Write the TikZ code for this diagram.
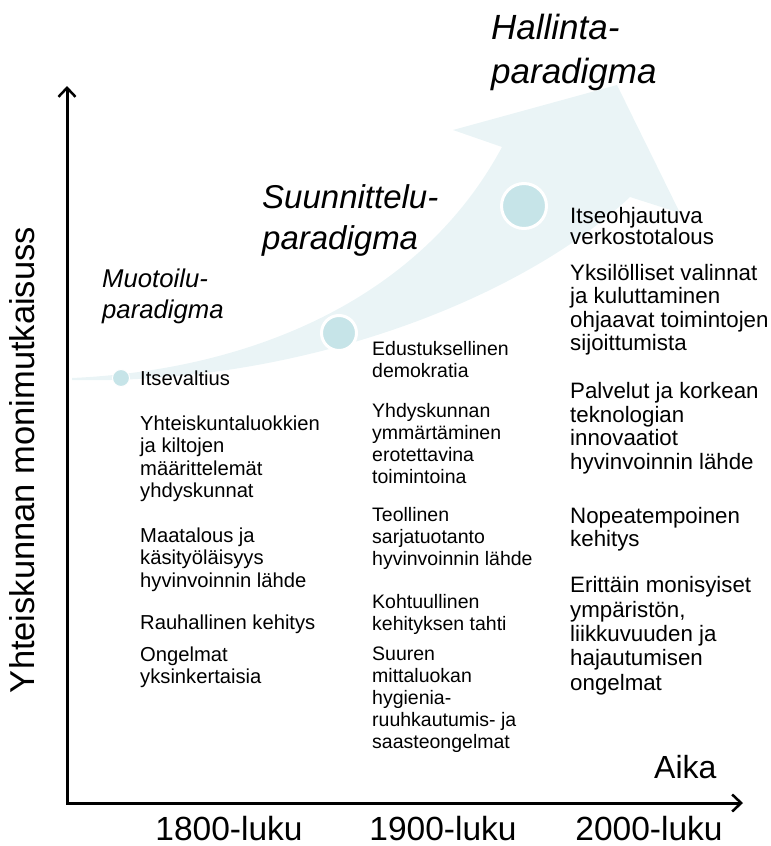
\documentclass[tikz,border=0pt]{standalone}
\usepackage{fontspec}
\setmainfont{Liberation Sans}
\usetikzlibrary{arrows.meta}
\definecolor{bandcol}{HTML}{EAF4F6}
\definecolor{dotcol}{HTML}{C6E4E8}
\begin{document}
	\begin{tikzpicture}[
		x=1pt, y=-1pt,
		axis/.style={
			line width=3pt, line join=miter,
			{Straight Barb[length=9pt,width=17pt,line width=2.5pt]}-{Straight Barb[length=9pt,width=17pt,line width=2.5pt]}
		},
		dot/.style={
			circle, fill=dotcol, draw=white, line width=3pt, inner sep=0pt
		},
		leftcol/.style={
			anchor=north west, inner sep=0pt, align=left, font=\fontsize{20.2}{22.5}\selectfont
		},
		midcol/.style={
			anchor=north west, inner sep=0pt, align=left, font=\fontsize{19.5}{22}\selectfont
		},
		rightcol/.style={
			anchor=north west, inner sep=0pt, align=left, font=\fontsize{22.3}{23.5}\selectfont
		},
		paradigm/.style={
			anchor=north west, inner sep=0pt, align=left
		},
		axislabel/.style={
			inner sep=0pt, font=\fontsize{33.5}{36}\selectfont
		}
		]
		
		\useasboundingbox (0,0) rectangle (771,846);
		
		% kasvava nuoli
		\fill[bandcol] (72,378) .. controls (250,370) and (420,300) .. (502,147)
			-- (453,130) -- (617,85) -- (680,213) -- (630,197)
			.. controls (520,300) and (300,385) .. (72,380) -- cycle;
		
		\node[dot, minimum size=17pt, line width=1pt] (d1) at (121,378) {};
		\node[dot, minimum size=35pt] (d2) at (339,333) {};
		\node[dot, minimum size=45pt] (d3) at (524,206) {};
		
		% akselit
		\coordinate (ytop) at (67,86);
		\coordinate (origo) at (67,803);
		\coordinate (xend) at (743,803);
		\draw[axis] (ytop) -- (origo) -- (xend);
		
		\node[axislabel, rotate=90, font=\fontsize{34.5}{36}\selectfont] (ylabel) at (22,460) {Yhteiskunnan monimutkaisuss};
		\node[axislabel, anchor=base west, font=\fontsize{32}{36}\selectfont] (aika) at (654,778) {Aika};
		\node[axislabel, anchor=base] (v1800) at (229,840) {1800-luku};
		\node[axislabel, anchor=base] (v1900) at (443,840) {1900-luku};
		\node[axislabel, anchor=base] (v2000) at (649,840) {2000-luku};
		
		\node[paradigm, font=\fontsize{25.7}{31}\selectfont\itshape] (muotoilu) at (102,268.6) {Muotoilu-\\paradigma};
		\node[paradigm, font=\fontsize{33}{41}\selectfont\itshape] (suunnittelu) at (262,184.4) {Suunnittelu-\\paradigma};
		\node[paradigm, font=\fontsize{35}{44}\selectfont\itshape] (hallinta) at (491,14) {Hallinta-\\paradigma};
		
		% 1800-luku
		\node[leftcol] (itsevaltius) at (140,371) {Itsevaltius};
		\node[leftcol] (luokat) at (140,415.5) {Yhteiskuntaluokkien\\ja kiltojen\\määrittelemät\\yhdyskunnat};
		\node[leftcol] (maatalous) at (140,527.5) {Maatalous ja\\käsityöläisyys\\hyvinvoinnin lähde};
		\node[leftcol] (rauhallinen) at (140,614.5) {Rauhallinen kehitys};
		\node[leftcol] (ongelmat1) at (140,646.5) {Ongelmat\\yksinkertaisia};
		
		% 1900-luku
		\node[midcol] (edustus) at (372,341) {Edustuksellinen\\demokratia};
		\node[midcol] (yhdyskunta) at (372,403.5) {Yhdyskunnan\\ymmärtäminen\\erotettavina\\toimintoina};
		\node[midcol] (teollinen) at (372,507.5) {Teollinen\\sarjatuotanto\\hyvinvoinnin lähde};
		\node[midcol] (kohtuullinen) at (372,594) {Kohtuullinen\\kehityksen tahti};
		\node[midcol] (suuren) at (372,647) {Suuren\\mittaluokan\\hygienia-\\ruuhkautumis- ja\\saasteongelmat};
		
		% 2000-luku
		\node[rightcol, font=\fontsize{22.3}{21.5}\selectfont] (itseohj) at (570,207) {Itseohjautuva\\verkostotalous};
		\node[rightcol] (yksilo) at (570,264) {Yksilölliset valinnat\\ja kuluttaminen\\ohjaavat toimintojen\\sijoittumista};
		\node[rightcol] (palvelut) at (570,382.5) {Palvelut ja korkean\\teknologian\\innovaatiot\\hyvinvoinnin lähde};
		\node[rightcol] (nopea) at (570,507) {Nopeatempoinen\\kehitys};
		\node[rightcol, font=\fontsize{22.3}{24.3}\selectfont] (erittain) at (570,576.5) {Erittäin monisyiset\\ympäristön,\\liikkuvuuden ja\\hajautumisen\\ongelmat};
	\end{tikzpicture}
\end{document}
